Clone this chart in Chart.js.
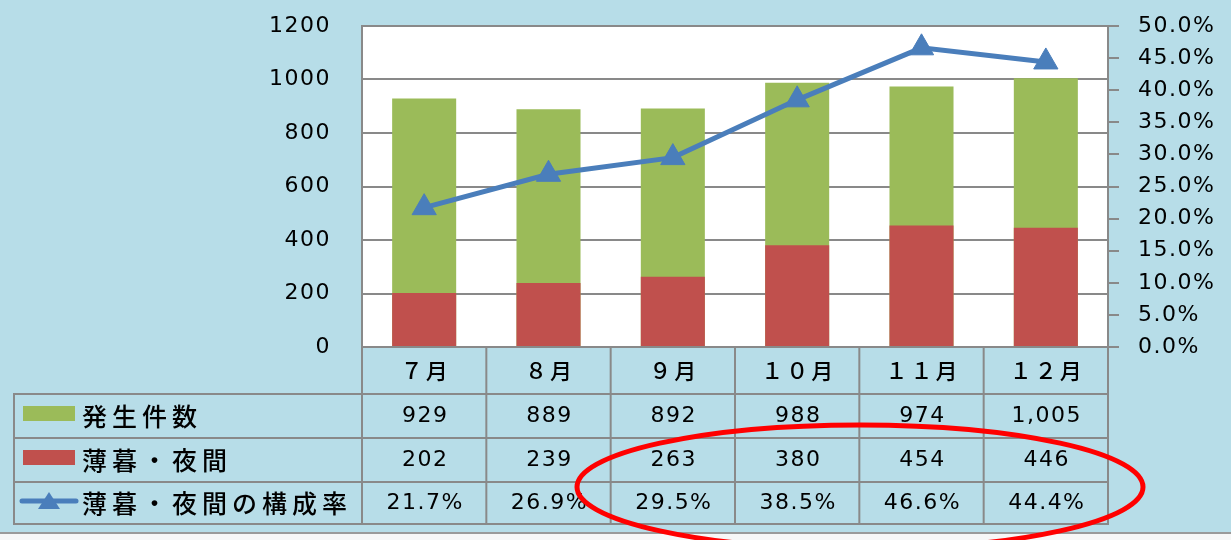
<!DOCTYPE html>
<html>
<head>
<meta charset="utf-8">
<script src="https://cdn.jsdelivr.net/npm/chart.js@4"></script>
<style>
  body { margin: 0; background: #b7dde8; }
  canvas { display: block; }
</style>
</head>
<body>
<canvas id="myChart" width="1231" height="540"></canvas>
<script>
// Data
const months = ["７月", "８月", "９月", "１０月", "１１月", "１２月"];
const totalCounts = [929, 889, 892, 988, 974, 1005];
const nightCounts = [202, 239, 263, 380, 454, 446];
const nightRates = [21.7, 26.9, 29.5, 38.5, 46.6, 44.4];
const seriesNames = ["発生件数", "薄暮・夜間", "薄暮・夜間の構成率"];

const GREEN = "#9bbb59";
const RED = "#c0504d";
const BLUE = "#4a7ebb";
const GRID = "#898989";
const LATIN = "'DejaVu Sans', sans-serif";
const CJK = "'Noto Sans CJK JP', sans-serif";

Chart.defaults.font.family = LATIN;
Chart.defaults.font.size = 22;
Chart.defaults.color = "#000";

// Background, plot area, data table and the red ellipse
const tablePlugin = {
  id: "tablePlugin",
  beforeDraw(chart) {
    const { ctx, chartArea } = chart;
    ctx.save();
    ctx.fillStyle = "#b7dde8";
    ctx.fillRect(0, 0, chart.width, chart.height);
    ctx.fillStyle = "#f7f7f7";
    ctx.fillRect(0, 534, chart.width, 6);
    ctx.fillStyle = "#9a9a9a";
    ctx.fillRect(0, 532, chart.width, 2);
    ctx.fillStyle = "#fff";
    ctx.fillRect(chartArea.left, chartArea.top, chartArea.right - chartArea.left, chartArea.bottom - chartArea.top);
    ctx.restore();
    // widen the text a little, like the original font
    ctx.letterSpacing = "1.5px";
  },
  afterDraw(chart) {
    const { ctx, chartArea } = chart;
    const xScale = chart.scales.x;
    const left = chartArea.left, right = chartArea.right;
    const colW = (right - left) / months.length;
    const rowLines = [394, 438, 482, 524];
    const tableLeft = 14;
    const top = chartArea.bottom;

    ctx.save();
    ctx.strokeStyle = GRID;
    ctx.lineWidth = 2;
    // horizontal lines
    rowLines.forEach((y) => {
      ctx.beginPath();
      ctx.moveTo(tableLeft, y);
      ctx.lineTo(right + 1, y);
      ctx.stroke();
    });
    // vertical lines
    for (let i = 0; i <= months.length; i++) {
      const x = left + i * colW;
      ctx.beginPath();
      ctx.moveTo(x, top);
      ctx.lineTo(x, rowLines[3] + 1);
      ctx.stroke();
    }
    ctx.beginPath();
    ctx.moveTo(tableLeft, rowLines[0] - 1);
    ctx.lineTo(tableLeft, rowLines[3] + 1);
    ctx.stroke();

    // category labels
    ctx.fillStyle = "#000";
    ctx.textAlign = "center";
    ctx.textBaseline = "middle";
    ctx.font = "500 22px " + CJK;
    ctx.letterSpacing = "3px";
    months.forEach((m, i) => {
      ctx.fillText(m, xScale.getPixelForValue(i) + 1.5, 371);
    });

    // values
    ctx.font = "22px " + LATIN;
    ctx.letterSpacing = "1.5px";
    const rowsText = [
      totalCounts.map((v) => v.toLocaleString("en-US")),
      nightCounts.map((v) => String(v)),
      nightRates.map((v) => v.toFixed(1) + "%"),
    ];
    const rowCenters = [416, 460, 503];
    rowsText.forEach((row, r) => {
      row.forEach((t, i) => {
        ctx.fillText(t, xScale.getPixelForValue(i) + 1, rowCenters[r]);
      });
    });

    // legend keys
    ctx.fillStyle = GREEN;
    ctx.fillRect(23, 406, 52, 15);
    ctx.fillStyle = RED;
    ctx.fillRect(23, 450, 52, 15);
    ctx.strokeStyle = BLUE;
    ctx.lineWidth = 5;
    ctx.lineCap = "round";
    ctx.beginPath();
    ctx.moveTo(22, 501);
    ctx.lineTo(76, 501);
    ctx.stroke();
    ctx.fillStyle = BLUE;
    ctx.beginPath();
    ctx.moveTo(49, 492);
    ctx.lineTo(60, 509);
    ctx.lineTo(38, 509);
    ctx.closePath();
    ctx.fill();

    // legend labels
    ctx.fillStyle = "#000";
    ctx.textAlign = "left";
    ctx.font = "500 25px " + CJK;
    ctx.letterSpacing = "5px";
    seriesNames.forEach((name, r) => {
      ctx.fillText(name, 82, rowCenters[r]);
    });

    // red ellipse
    ctx.letterSpacing = "0px";
    ctx.strokeStyle = "#ff0000";
    ctx.lineWidth = 5;
    ctx.beginPath();
    ctx.ellipse(860, 487, 283, 62, 0, 0, Math.PI * 2);
    ctx.stroke();
    ctx.restore();
  },
};

// keep the plot area where the original has it
function fixAxis(width) {
  return (scale) => {
    scale.width = width;
    scale.paddingTop = 0;
    scale.paddingBottom = 0;
  };
}

const ctx = document.getElementById("myChart").getContext("2d");
new Chart(ctx, {
  data: {
    labels: months,
    datasets: [
      {
        type: "line",
        label: seriesNames[2],
        data: nightRates,
        yAxisID: "y1",
        order: 0,
        borderColor: BLUE,
        borderWidth: 5,
        tension: 0,
        pointStyle: "triangle",
        pointRadius: 14,
        pointBackgroundColor: BLUE,
        pointBorderColor: BLUE,
        pointBorderWidth: 1,
      },
      {
        type: "bar",
        label: seriesNames[1],
        data: nightCounts,
        yAxisID: "y",
        order: 1,
        grouped: false,
        backgroundColor: RED,
        barPercentage: 0.515,
        categoryPercentage: 1,
      },
      {
        type: "bar",
        label: seriesNames[0],
        data: totalCounts,
        yAxisID: "y",
        order: 2,
        grouped: false,
        backgroundColor: GREEN,
        barPercentage: 0.515,
        categoryPercentage: 1,
      },
    ],
  },
  options: {
    responsive: false,
    animation: false,
    layout: { autoPadding: false, padding: { top: 26, bottom: 193, left: 0, right: 0 } },
    plugins: {
      legend: { display: false },
      tooltip: { enabled: false },
    },
    scales: {
      x: { display: false },
      y: {
        position: "left",
        min: 0,
        max: 1200,
        ticks: { stepSize: 200, padding: 31, callback: (v) => String(v) },
        grid: { color: GRID, lineWidth: 2, drawTicks: false },
        border: { color: GRID, width: 2 },
        afterFit: fixAxis(362),
      },
      y1: {
        position: "right",
        min: 0,
        max: 50,
        ticks: {
          stepSize: 5,
          padding: 19,
          callback: (v) => v.toFixed(1) + "%",
        },
        grid: { drawOnChartArea: false, color: GRID, lineWidth: 2, tickLength: 11 },
        border: { color: GRID, width: 2 },
        afterFit: fixAxis(123),
      },
    },
  },
  plugins: [tablePlugin],
});
</script>
</body>
</html>
